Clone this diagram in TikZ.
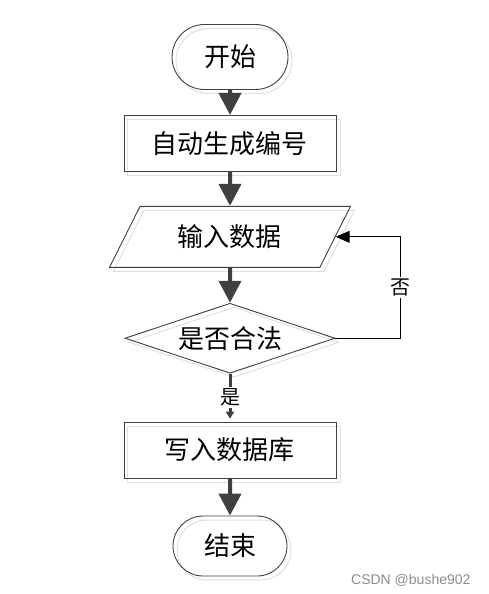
\documentclass[tikz,border=0pt]{standalone}
\usepackage{fontspec}
\newfontfamily\cjk{Noto Sans CJK SC}
\newfontfamily\wmfont{Liberation Sans}
\usetikzlibrary{shapes.misc, shapes.geometric, shadows, arrows.meta, positioning}
\definecolor{linegray}{HTML}{404040}

\begin{document}
\begin{tikzpicture}[
          base/.style={draw=linegray, line width=0.9pt, align=center, inner sep=0pt,
            font=\cjk\fontsize{26}{30}\selectfont,
            general shadow={shadow xshift=4pt, shadow yshift=-4pt, draw=black!12, line width=1pt}},
          term/.style={base, rounded rectangle, minimum width=116pt, minimum height=65pt},
          proc/.style={base, rectangle, minimum width=212pt, minimum height=56pt},
          io/.style={base, trapezium, trapezium left angle=63, trapezium right angle=117,
            trapezium stretches body, inner ysep=18pt, minimum width=241pt, minimum height=61pt},
          decide/.style={base, diamond, aspect=3, minimum width=210pt, minimum height=70pt},
          flow/.style={-{Triangle[width=22pt,length=22pt]}, line width=4pt, draw=linegray},
          yes/.style={-{Triangle[width=8pt,length=7pt]}, line width=3pt, draw=linegray, shorten >=3pt},
          back/.style={-{Triangle[width=12pt,length=14pt]}, line width=1pt, draw=black},
          lbl/.style={fill=white, inner sep=2pt, font=\cjk\fontsize{20}{24}\selectfont},
          wm/.style={text=black!45, font=\wmfont\fontsize{14}{16}\selectfont}
        ]
          % 节点
          \node[term] (start) {开始};
          \useasboundingbox (-230pt,57pt) rectangle (258pt,-537pt);
          \node[proc] (gen) [below=25pt of start] {自动生成编号};
          \node[io] (inp) [below=34pt of gen] {输入数据};
          \node[decide] (ok) [below=35pt of inp] {是否合法};
          \node[proc] (save) [below=48pt of ok] {写入数据库};
          \node[term, minimum width=114pt, minimum height=60pt] (stop) [below=37pt of save] {结束};
          \node[wm, anchor=east] (mark) at (244pt,-523pt) {CSDN @bushe902};

          % 连线
          \draw[flow] (start) -- (gen);
          \draw[flow] (gen) -- (inp);
          \draw[flow] (inp) -- (ok);
          \draw[yes] (ok) -- node[lbl] {是} (save);
          \draw[flow] (save) -- (stop);
          \draw[back] (ok.east) -- ++(65pt,0) |- node[lbl, pos=0.25] {否} (inp.east);
        \end{tikzpicture}
\end{document}
